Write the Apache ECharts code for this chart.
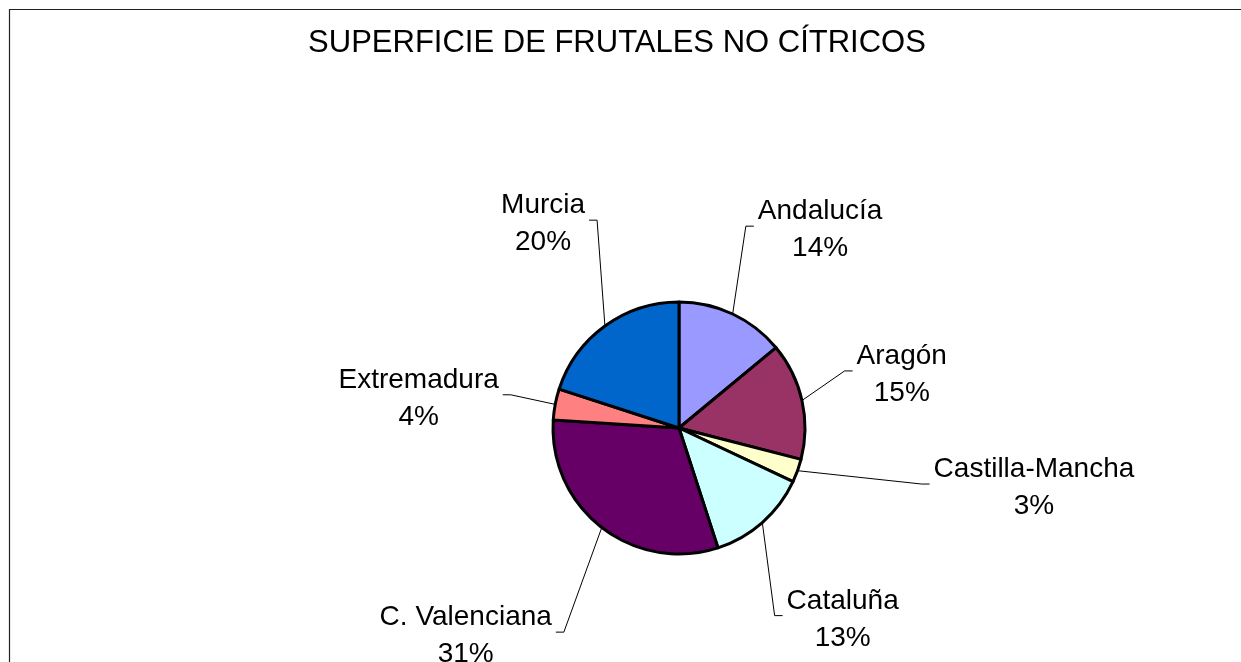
<!DOCTYPE html>
<html lang="es" style="height: 100%">
<head>
  <meta charset="utf-8">
</head>
<body style="height: 100%; margin: 0">
  <div id="container" style="width: 1241px; height: 662px"></div>

  <script type="text/javascript" src="https://fastly.jsdelivr.net/npm/echarts@6/dist/echarts.min.js"></script>

  <script type="text/javascript">
    var regiones = ['Andalucía', 'Aragón', 'Castilla-Mancha', 'Cataluña', 'C. Valenciana', 'Extremadura', 'Murcia'];
    var porcentajes = [14, 15, 3, 13, 31, 4, 20];
    var colores = ['#9999FF', '#993366', '#FFFFCC', '#CCFFFF', '#660066', '#FF8080', '#0066CC'];

    // where each label block sits: [angle clockwise from top (deg), distance from centre (px)]
    var labelPolar = [[35.5, 243], [76.6, 229], [99.6, 360], [139.5, 252], [225.7, 298], [276.4, 262], [326.3, 245]];

    var cx = 679, cy = 428, radio = 126;
    var total = porcentajes.reduce(function (a, b) { return a + b; }, 0);

    function midAngle(i) {
      var acc = 0;
      for (var k = 0; k < i; k++) acc += porcentajes[k];
      return (acc + porcentajes[i] / 2) / total * 360;
    }

    var dom = document.getElementById('container');
    var myChart = echarts.init(dom, null, { renderer: 'canvas' });
    var option;

    option = {
      animation: false,
      backgroundColor: '#fff',
      textStyle: { fontFamily: 'Liberation Sans, Arial, sans-serif' },
      title: {
        text: 'SUPERFICIE DE FRUTALES NO CÍTRICOS',
        left: 612,
        top: 23,
        textAlign: 'center',
        textStyle: {
          fontFamily: 'Liberation Sans, Arial, sans-serif',
          fontSize: 31,
          fontWeight: 'normal',
          color: '#000'
        }
      },
      graphic: [
        {
          type: 'rect',
          shape: { x: 9.5, y: 9.5, width: 1400, height: 800 },
          style: { fill: 'none', stroke: '#222', lineWidth: 1.2 },
          silent: true
        }
      ],
      series: [
        {
          type: 'pie',
          center: [cx, cy],
          radius: radio,
          startAngle: 90,
          clockwise: true,
          percentPrecision: 0,
          emphasis: { disabled: true },
          itemStyle: { borderColor: '#000', borderWidth: 3 },
          label: {
            show: true,
            position: 'outside',
            formatter: '{b}\n{d}%',
            fontFamily: 'Liberation Sans, Arial, sans-serif',
            fontSize: 28,
            lineHeight: 37,
            color: '#000',
            align: 'center'
          },
          labelLine: {
            show: true,
            smooth: false,
            lineStyle: { color: '#000', width: 1 }
          },
          labelLayout: function (params) {
            var i = params.dataIndex;
            var a = labelPolar[i][0] * Math.PI / 180;
            var d = labelPolar[i][1];
            var lx = cx + d * Math.sin(a);
            var ly = cy - d * Math.cos(a);
            var m = midAngle(i) * Math.PI / 180;
            var p0 = [cx + radio * Math.sin(m), cy - radio * Math.cos(m)];
            var w = params.labelRect.width;
            var right = lx > cx;
            var ex = right ? lx - w / 2 - 4 : lx + w / 2 + 4;
            var ey = ly - 4;
            var p1 = [right ? ex - 8 : ex + 8, ey];
            return {
              x: lx,
              y: ly,
              align: 'center',
              verticalAlign: 'middle',
              labelLinePoints: [p0, p1, [ex, ey]]
            };
          },
          data: regiones.map(function (n, i) {
            return { name: n, value: porcentajes[i], itemStyle: { color: colores[i] } };
          })
        }
      ]
    };

    if (option && typeof option === 'object') {
      myChart.setOption(option);
    }

    window.addEventListener('resize', myChart.resize);
  </script>
</body>
</html>
